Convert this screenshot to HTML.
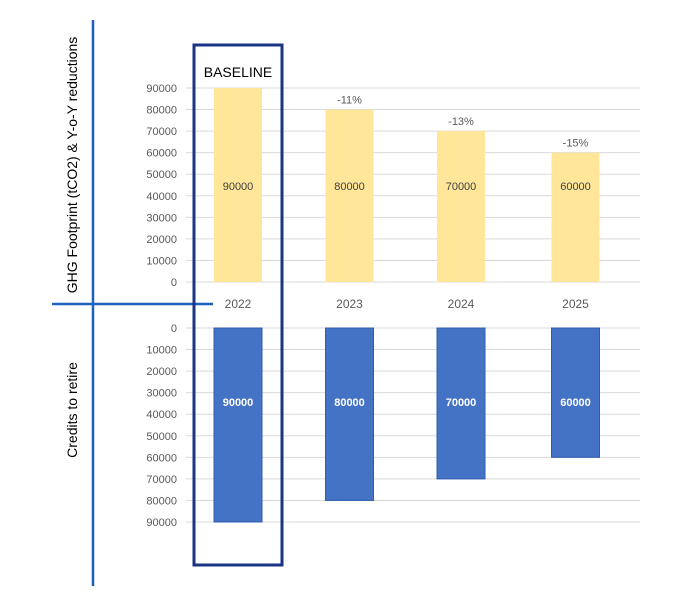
<!DOCTYPE html>
<html><head><meta charset="utf-8"><style>
body{margin:0;background:#fff;}
svg text{font-family:"Liberation Sans",sans-serif;}
</style></head><body>
<svg width="700" height="611" viewBox="0 0 700 611">
<g id="grid"></g><g id="marks"></g><g id="labels"></g>
<line x1="93" y1="20" x2="93" y2="586" stroke="#1f5fbf" stroke-width="2.5"/>
<line x1="52" y1="304" x2="213" y2="304" stroke="#1f5fbf" stroke-width="2.5"/>
<rect x="194" y="45" width="88" height="520" fill="none" stroke="#1a3585" stroke-width="3"/>
<text x="238" y="77" text-anchor="middle" font-size="14" fill="#000">BASELINE</text>
<text transform="translate(77,165) rotate(-90)" text-anchor="middle" font-size="14" fill="#000">GHG Footprint (tCO2)  &amp; Y-o-Y reductions</text>
<text transform="translate(77,410) rotate(-90)" text-anchor="middle" font-size="14" fill="#000">Credits to retire</text>
</svg>
<script>
const categories=["2022","2023","2024","2025"];
const footprint=[90000,80000,70000,60000];
const credits=[90000,80000,70000,60000];
const reductions=["","-11%","-13%","-15%"];
const ticks=[0,10000,20000,30000,40000,50000,60000,70000,80000,90000];
const NS="http://www.w3.org/2000/svg";
function el(t,a,p){const e=document.createElementNS(NS,t);for(const k in a)e.setAttribute(k,a[k]);document.getElementById(p).appendChild(e);return e;}
const pxPer=194/90000;
const yTop=v=>282-v*pxPer;
const yBot=v=>328+v*pxPer;
const xC=i=>238+i*111.5+(i===3?3:0);
const bw=48;
ticks.forEach(t=>{
 let g=el('line',{x1:186,x2:640,y1:yTop(t),y2:yTop(t),stroke:'#d9d9d9','stroke-width':1},'grid');
 
 
 let l=el('text',{x:177,y:yTop(t)+4,'text-anchor':'end','font-size':11,fill:'#595959'},'labels');l.textContent=t;
 
 
 let g2=el('line',{x1:186,x2:640,y1:yBot(t),y2:yBot(t),stroke:'#d9d9d9','stroke-width':1},'grid');
 
 
 let l2=el('text',{x:177,y:yBot(t)+4,'text-anchor':'end','font-size':11,fill:'#595959'},'labels');l2.textContent=t;
 
 
});
categories.forEach((c,i)=>{
 const x=xC(i);
 let b=el('rect',{x:x-bw/2,y:yTop(footprint[i]),width:bw,height:footprint[i]*pxPer,fill:'#ffe699'},'marks');
 
 
 let t=el('text',{x:x,y:190,'text-anchor':'middle','font-size':11,fill:'#404040'},'labels');t.textContent=footprint[i];
 
 
 if(reductions[i]){let r=el('text',{x:x,y:yTop(footprint[i])-6,'text-anchor':'middle','font-size':11,fill:'#595959'},'labels');r.textContent=reductions[i];
 
 }
 let cb=el('rect',{x:x-bw/2,y:328,width:bw,height:credits[i]*pxPer,fill:'#4472c4',stroke:'#2f5cb0','stroke-width':1},'marks');
 
 
 let ct=el('text',{x:x,y:406,'text-anchor':'middle','font-size':11,fill:'#fff','font-weight':'bold'},'labels');ct.textContent=credits[i];
 
 
 let cl=el('text',{x:x,y:308,'text-anchor':'middle','font-size':12,fill:'#595959'},'labels');cl.textContent=c;
 
 
});
</script>
</body></html>
